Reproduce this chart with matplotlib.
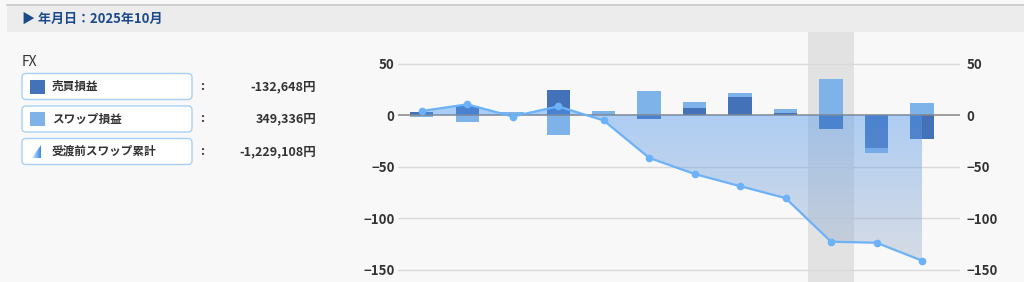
import numpy as np
import matplotlib
matplotlib.use("Agg")
import matplotlib.pyplot as plt
from matplotlib.patches import Rectangle, FancyBboxPatch, Polygon

plt.rcParams['font.family'] = ['Noto Sans CJK JP', 'DejaVu Sans']

# data (unit: 10,000 yen)
months = ['2025/01', '2025/02', '2025/03', '2025/04', '2025/05', '2025/06',
          '2025/07', '2025/08', '2025/09', '2025/10', '2025/11', '2025/12']
trade_pl = [2.6, 8.4, 0.5, 24.0, 0.4, -3.9, 7.3, 17.1, 1.6, -13.3, -31.6, -22.9]
swap_pl = [-2.3, -6.5, 3.2, -19.1, 4.4, 23.3, 12.6, 21.0, 5.5, 34.9, -36.8, 11.6]
swap_cum = [3.9, 10.4, -1.4, 8.4, -5.2, -41.5, -57.2, -69.0, -80.6, -122.9, -123.9, -141.3]
selected = '2025/10'
yticks = [-150, -100, -50, 0, 50]

header = '▶ 年月日：2025年10月'
group_name = 'FX'
legend_labels = ['売買損益', 'スワップ損益', '受渡前スワップ累計']
legend_values = [-132648, 349336, -1229108]

DARK = '#4472b8'
LIGHT = '#7db3e9'
LINE = '#6cb2f8'
TXT = '#333333'

W, H = 1024, 282
fig = plt.figure(figsize=(W / 100, H / 100), dpi=100, facecolor='#f8f8f8')

# left panel / header drawn in pixel coordinates
pan = fig.add_axes([0, 0, 1, 1])
pan.set_xlim(0, W)
pan.set_ylim(H, 0)
pan.axis('off')
pan.add_patch(Rectangle((7, 5), W - 7, 27, facecolor='#ececec', edgecolor='none'))
pan.plot([7, W], [5, 5], color='#c8c8c8', lw=1.2)
pan.text(22, 18.5, header, color='#1b4a8a', fontsize=9.4, fontweight='bold',
         va='center', ha='left')
pan.text(22, 62, group_name, color=TXT, fontsize=10, va='center', ha='left')

row_y = [86.5, 119, 151.5]
for i, (lab, val) in enumerate(zip(legend_labels, legend_values)):
    y = row_y[i]
    pan.add_patch(FancyBboxPatch((22, y - 13), 170, 26,
                                 boxstyle='round,pad=0,rounding_size=4',
                                 facecolor='white', edgecolor='#a9d0f5', lw=1.0))
    if i == 0:
        pan.add_patch(Rectangle((30, y - 7), 15, 14, facecolor=DARK, zorder=2))
    elif i == 1:
        pan.add_patch(Rectangle((30, y - 7), 15, 14, facecolor=LIGHT, zorder=2))
    else:
        tri = Polygon([(32, y + 6.5), (41, y + 6.5), (41, y - 6.5)], closed=True,
                      facecolor='none', edgecolor='none', zorder=2)
        pan.add_patch(tri)
        g = np.linspace(0, 1, 64)[None, :]
        c0 = np.array([0.85, 0.92, 0.99])
        c1 = np.array([0.22, 0.53, 0.93])
        img = c0[None, None, :] * (1 - g[..., None]) + c1[None, None, :] * g[..., None]
        im = pan.imshow(img, extent=[32, 41, y + 6.5, y - 6.5], aspect='auto', zorder=3)
        im.set_clip_path(tri)
    pan.text(52, y, lab, color=TXT, fontsize=8.4, fontweight='bold', va='center')
    pan.text(202, y, ':', color=TXT, fontsize=9, fontweight='bold', va='center', ha='center')
    pan.text(316, y, f'{val:,}円', color=TXT, fontsize=9, fontweight='bold',
             va='center', ha='right')
pan.set_xlim(0, W)
pan.set_ylim(H, 0)

# chart
ax = fig.add_axes([398 / W, 0, 562 / W, 1 - 32 / H])
ax.set_facecolor('none')
x = np.arange(len(months))
sel = months.index(selected)
ax.axvspan(sel - 0.5, sel + 0.5, color='#e2e2e2', zorder=0, lw=0)
for t in yticks:
    if t != 0:
        ax.axhline(t, color='#d9d9d9', lw=1.0, zorder=1)

bw = 0.51
ax.bar(x, swap_pl, width=bw, color=LIGHT, zorder=2)
ax.bar(x, trade_pl, width=bw, color=DARK, zorder=2.1)
ax.axhline(0, color='#858585', lw=1.1, zorder=2.5)

# cumulative swap area with vertical gradient
poly = ax.fill_between(x, swap_cum, 0, facecolor='none', edgecolor='none', zorder=3)
ymax, ymin = max(max(swap_cum), 0), min(swap_cum)
ny = 256
t = np.linspace(0, 1, ny)[:, None]
top = np.array([77, 150, 240]) / 255
bot = np.array([172, 184, 204]) / 255
grad = np.zeros((ny, 1, 4))
grad[..., :3] = top * (1 - t[..., None]) + bot * t[..., None]
grad[..., 3] = 0.45
grad[:, :, :3] = np.where(np.linspace(ymax, ymin, ny)[:, None, None] > 0, top, grad[:, :, :3])
im = ax.imshow(grad, extent=[x[0], x[-1], ymin, ymax], aspect='auto', origin='upper', zorder=3)
im.set_clip_path(poly.get_paths()[0], transform=ax.transData)

ax.plot(x, swap_cum, color=LINE, lw=1.6, marker='o', markersize=4.5, zorder=4)

ax.set_xlim(-0.52, len(months) - 1 + 0.835)
ax.set_ylim(-162, 80.6)
ax.set_yticks(yticks)
ax.set_xticks([])
for s in ax.spines.values():
    s.set_visible(False)
ax.tick_params(axis='y', length=0, pad=2.5, labelsize=9.5, labelcolor=TXT)
for lbl in ax.get_yticklabels():
    lbl.set_fontweight('bold')

ax2 = ax.twinx()
ax2.set_ylim(ax.get_ylim())
ax2.set_yticks(yticks)
for s in ax2.spines.values():
    s.set_visible(False)
ax2.tick_params(axis='y', length=0, pad=4.5, labelsize=9.5, labelcolor=TXT)
for lbl in ax2.get_yticklabels():
    lbl.set_fontweight('bold')

fig.savefig('out.png', dpi=100, facecolor=fig.get_facecolor())
